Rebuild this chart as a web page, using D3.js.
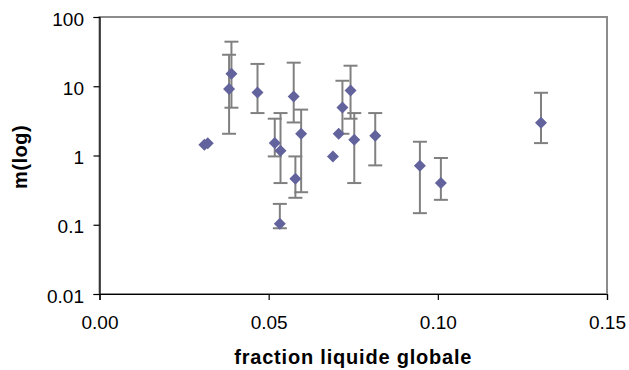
<!DOCTYPE html>
<html lang="fr">
  <head>
    <meta charset="UTF-8" />
    <title>m(log) vs fraction liquide globale</title>
    <script src="https://cdn.jsdelivr.net/npm/d3@7"></script>
    <style>
      body { margin: 0; background: #fff; }
      text { font-family: Arial, "Liberation Sans", sans-serif; }
    </style>
  </head>
  <body>
    <svg width="629" height="370"></svg>
    <script>
      // valeurs
      var fraction = [0.031, 0.032, 0.0383, 0.039, 0.0467, 0.0518, 0.0535, 0.0533, 0.0574, 0.0579,
                      0.0596, 0.069, 0.0707, 0.0718, 0.0742, 0.0753, 0.0815, 0.0947, 0.1009, 0.1305]
      var m =        [1.43, 1.5, 9.1, 15.2, 8.1, 1.51, 1.17, 0.103, 7.1, 0.46,
                      2.06, 0.97, 2.06, 4.94, 8.7, 1.69, 1.93, 0.71, 0.40, 2.97]
      // bornes des barres d'erreur (null = pas de barre)
      var errHaut =  [null, null, 28.5, 44, 21, 3.4, 4.1, 0.20, 21.9, 0.97,
                      4.6, null, null, 12, 19.8, 4.1, 4.1, 1.58, 0.92, 8.05]
      var errBas =   [null, null, 2.06, 4.9, 4.1, 0.97, 0.40, 0.089, 3.0, 0.245,
                      0.295, null, null, 2.06, 3.4, 0.40, 0.72, 0.147, 0.229, 1.51]
      var xTicks = [0, 0.05, 0.1, 0.15]
      var yTicks = [0.01, 0.1, 1, 10, 100]

      var margin = { top: 17, right: 22, bottom: 76, left: 99.5 }
      var svg = d3.select('svg')
      var width = 629 - margin.left - margin.right
      var height = 370 - margin.top - margin.bottom

      var g = svg.append('g')
        .attr('transform', `translate(${margin.left}, ${margin.top})`)

      var x = d3.scaleLinear().domain([0, 0.15]).range([0, width])
      var y = d3.scaleLog().domain([0.01, 100]).range([height, 0])

      // cadre gris
      g.append('rect')
        .attr('x', 0).attr('y', 0)
        .attr('width', width).attr('height', height)
        .attr('fill', 'none')
        .attr('stroke', '#8c8c8c')
        .attr('stroke-width', 2)

      var xAxis = g.append('g')
        .attr('transform', `translate(0, ${height})`)
        .call(d3.axisBottom(x).tickValues(xTicks).tickFormat(d3.format('.2f')).tickSizeOuter(0).tickSize(6).tickPadding(16))
      var yAxis = g.append('g')
        .call(d3.axisLeft(y).tickValues(yTicks).tickFormat(d => d).tickSizeOuter(0).tickSize(6).tickPadding(9.5))

      ;[xAxis, yAxis].forEach(a => {
        a.select('.domain').attr('stroke', '#000').attr('stroke-width', 1.2)
        a.selectAll('.tick line').attr('stroke', '#000').attr('stroke-width', 1.2)
        a.selectAll('.tick text').attr('font-size', 19).attr('fill', '#000')
          .style('font-family', 'Arial, "Liberation Sans", sans-serif')
      })
      yAxis.selectAll('.tick text').attr('dy', '0.43em')

      // barres d'erreur
      var data = fraction.map((f, i) => ({ x: f, y: m[i], hi: errHaut[i], lo: errBas[i] }))
      var eb = g.append('g').selectAll('g')
        .data(data.filter(d => d.hi != null))
        .enter().append('g')
        .attr('stroke', '#808080')
        .attr('stroke-width', 2)
      eb.append('line')
        .attr('x1', d => x(d.x)).attr('x2', d => x(d.x))
        .attr('y1', d => y(d.hi)).attr('y2', d => y(d.lo))
      eb.append('line')
        .attr('x1', d => x(d.x) - 7).attr('x2', d => x(d.x) + 7)
        .attr('y1', d => y(d.hi)).attr('y2', d => y(d.hi))
      eb.append('line')
        .attr('x1', d => x(d.x) - 7).attr('x2', d => x(d.x) + 7)
        .attr('y1', d => y(d.lo)).attr('y2', d => y(d.lo))

      // losanges
      var diamond = d3.symbol().type(d3.symbolSquare).size(72)
      g.append('g').selectAll('path')
        .data(data)
        .enter().append('path')
        .attr('d', diamond)
        .attr('transform', d => `translate(${x(d.x)}, ${y(d.y)}) rotate(45)`)
        .attr('fill', '#62629c')

      // titres des axes
      svg.append('text')
        .attr('x', margin.left + width / 2)
        .attr('y', 364)
        .attr('text-anchor', 'middle')
        .attr('font-size', 20)
        .attr('font-weight', 'bold')
        .attr('letter-spacing', 0.8)
        .text('fraction liquide globale')

      svg.append('text')
        .attr('transform', `translate(27, 157) rotate(-90)`)
        .attr('text-anchor', 'middle')
        .attr('font-size', 20)
        .attr('font-weight', 'bold')
        .attr('letter-spacing', 0.5)
        .text('m(log)')
    </script>
  </body>
</html>
